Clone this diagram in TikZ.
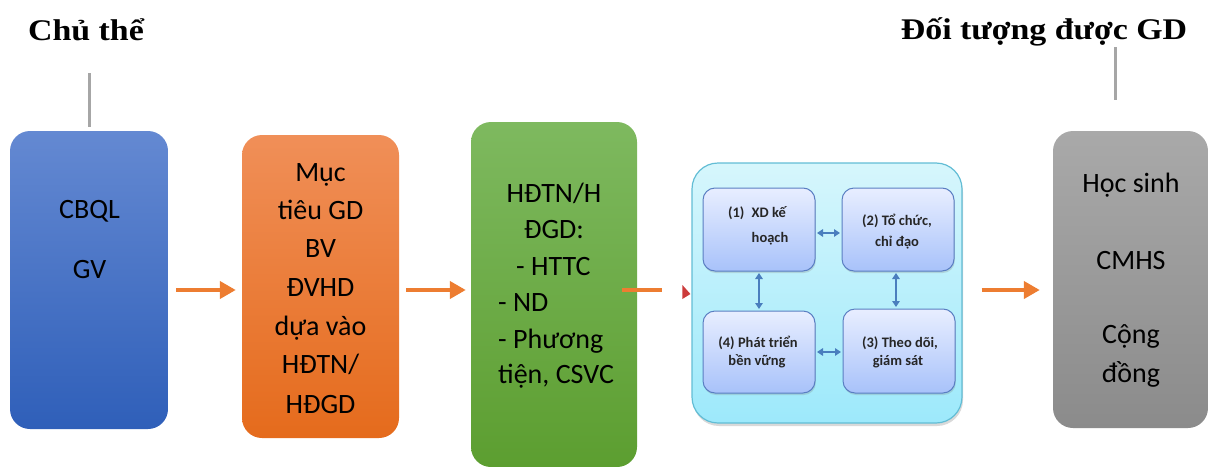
\documentclass[tikz,border=0pt]{standalone}
\usepackage{fontspec}
\setmainfont{Carlito}
\newfontfamily\titlefont[FakeStretch=1.13]{Liberation Serif}
\usetikzlibrary{arrows.meta,shadows,calc}
\definecolor{arrorange}{HTML}{ED7D31}
\definecolor{stemgray}{HTML}{A6A6A6}
\definecolor{dblblue}{HTML}{4A7EBE}
\definecolor{redtip}{HTML}{CC3B3B}
\definecolor{blueT}{HTML}{6489D2}
\definecolor{blueB}{HTML}{2F5FB9}
\definecolor{orangeT}{HTML}{F08F58}
\definecolor{orangeB}{HTML}{E56B1C}
\definecolor{greenT}{HTML}{7EB95F}
\definecolor{greenB}{HTML}{5C9E30}
\definecolor{grayT}{HTML}{A9A9A9}
\definecolor{grayB}{HTML}{8B8B8B}
\definecolor{cyanT}{HTML}{D6F6FC}
\definecolor{cyanB}{HTML}{9DE9FB}
\definecolor{cyanD}{HTML}{62BDD5}
\definecolor{innerT}{HTML}{E8EEFF}
\definecolor{innerB}{HTML}{A8C2FA}
\definecolor{innerD}{HTML}{5A7EC2}
\begin{document}
\begin{tikzpicture}[x=1pt,y=-1pt,
  bigbox/.style={rectangle,rounded corners=20pt,draw=none,inner sep=0pt},
  bigtext/.style={font=\fontsize{28}{30}\selectfont,text=black,inner sep=0pt,anchor=base},
  smalltext/.style={font=\fontsize{14.5}{16}\selectfont\bfseries,text=black!85,inner sep=0pt,anchor=base},
  innerbox/.style={rectangle,rounded corners=12pt,draw=innerD,line width=1pt,
     top color=innerT,bottom color=innerB,inner sep=0pt,
     drop shadow={opacity=0.25,shadow xshift=0.8pt,shadow yshift=-2pt}},
  flow/.style={draw=arrorange,line width=4pt,-{Triangle[length=16pt,width=17pt]}},
  dbl/.style={draw=dblblue,line width=1.8pt,{Triangle[length=6pt,width=7.5pt]}-{Triangle[length=6pt,width=7.5pt]},shorten <=1.5pt,shorten >=1.5pt},
  stem/.style={draw=stemgray,line width=3pt},
  titletext/.style={font=\titlefont\fontsize{30}{32}\selectfont\bfseries,inner sep=0pt,anchor=base}
]
\useasboundingbox (0,0) rectangle (1212,466);
\coordinate (mid) at (0,290);

% titles
\node[titletext] (t1) at (86,40) {Chủ thể};
\node[titletext] (t2) at (1044,39) {Đối tượng được GD};

% main boxes
\node[bigbox,minimum width=158pt,minimum height=298pt,top color=blueT,bottom color=blueB] (blue) at (89,280) {};
\node[bigbox,minimum width=157pt,minimum height=303pt,top color=orangeT,bottom color=orangeB] (orange) at (320.5,286.5) {};
\node[bigbox,minimum width=166pt,minimum height=345pt,top color=greenT,bottom color=greenB] (green) at (554,294.5) {};
\node[bigbox,minimum width=270pt,minimum height=260pt,rounded corners=26pt,draw=cyanD,line width=1.2pt,top color=cyanT,bottom color=cyanB,drop shadow={opacity=0.3,shadow xshift=1pt,shadow yshift=-3pt}] (cyanbox) at (827,293) {};
\node[bigbox,minimum width=155pt,minimum height=297pt,top color=grayT,bottom color=grayB] (gray) at (1130.5,279.5) {};

% inner boxes
\node[innerbox,minimum width=112pt,minimum height=83pt] (b1) at (759,229.5) {};
\node[innerbox,minimum width=112pt,minimum height=83pt] (b2) at (898,229.5) {};
\node[innerbox,minimum width=112pt,minimum height=84pt] (b3) at (899,351) {};
\node[innerbox,minimum width=112pt,minimum height=82pt] (b4) at (759,352) {};

% texts: blue
\node[bigtext] (tb1) at (89.5,218) {CBQL};
\node[bigtext] (tb2) at (89.5,278) {GV};
% texts: orange
\node[bigtext] (to1) at (320.5,181) {Mục};
\node[bigtext] (to2) at (320.5,219) {tiêu GD};
\node[bigtext] (to3) at (320.5,257) {BV};
\node[bigtext] (to4) at (320.5,296) {ĐVHD};
\node[bigtext] (to5) at (320.5,335) {dựa vào};
\node[bigtext] (to6) at (320.5,373) {HĐTN/};
\node[bigtext] (to7) at (320.5,413) {HĐGD};
% texts: green
\node[bigtext] (tg1) at (554,202) {HĐTN/H};
\node[bigtext] (tg2) at (554,238) {ĐGD:};
\node[bigtext,anchor=base west] (tg3) at (516,275) {- HTTC};
\node[bigtext,anchor=base west] (tg4) at (498,311) {- ND};
\node[bigtext,anchor=base west] (tg5) at (498,348) {- Phương};
\node[bigtext,anchor=base west] (tg6) at (498,383) {tiện, CSVC};
% texts: gray
\node[bigtext] (tr1) at (1131,192) {Học sinh};
\node[bigtext] (tr2) at (1131,269) {CMHS};
\node[bigtext] (tr3) at (1131,343) {Cộng};
\node[bigtext] (tr4) at (1131,382) {đồng};
% texts: inner boxes
\node[smalltext] (s11) at (757,217) {(1)\enspace XD kế};
\node[smalltext] (s12) at (770,242) {hoạch};
\node[smalltext] (s21) at (897,225) {(2) Tổ chức,};
\node[smalltext] (s22) at (897,246) {chỉ đạo};
\node[smalltext] (s31) at (900,347) {(3) Theo dõi,};
\node[smalltext] (s32) at (898,365) {giám sát};
\node[smalltext] (s41) at (758,347) {(4) Phát triển};
\node[smalltext] (s42) at (757,365) {bền vững};

% stems
\draw[stem] ($(blue.north)+(0,-4)$) -- ($(blue.north)+(0,-58)$);
\draw[stem] ($(gray.north)+(-15.5,-31)$) -- ($(gray.north)+(-15.5,-84)$);

% flow arrows
\draw[flow,shorten <=8pt,shorten >=6pt] (blue.east |- mid) -- (orange.west |- mid);
\draw[flow,shorten <=7pt,shorten >=5pt] (orange.east |- mid) -- (green.west |- mid);
\draw[draw=arrorange,line width=4pt,shorten <=-15pt,shorten >=29pt] (green.east |- mid) -- (cyanbox.west |- mid);
\fill[redtip] ($(cyanbox.west |- mid)+(-9,-5)$) -- ($(cyanbox.west |- mid)+(-1,4)$) -- ($(cyanbox.west |- mid)+(-9,9)$) -- cycle;
\draw[flow,shorten <=19pt,shorten >=13pt] (cyanbox.east |- mid) -- (gray.west |- mid);

% inner double arrows
\draw[dbl] (b1.east |- 0,233) -- (b2.west |- 0,233);
\draw[dbl] (b4.east |- 0,352) -- (b3.west |- 0,352);
\draw[dbl] (b1.south) -- (b4.north);
\draw[dbl] (b2.south -| 896,0) -- (b3.north -| 896,0);
\end{tikzpicture}
\end{document}
